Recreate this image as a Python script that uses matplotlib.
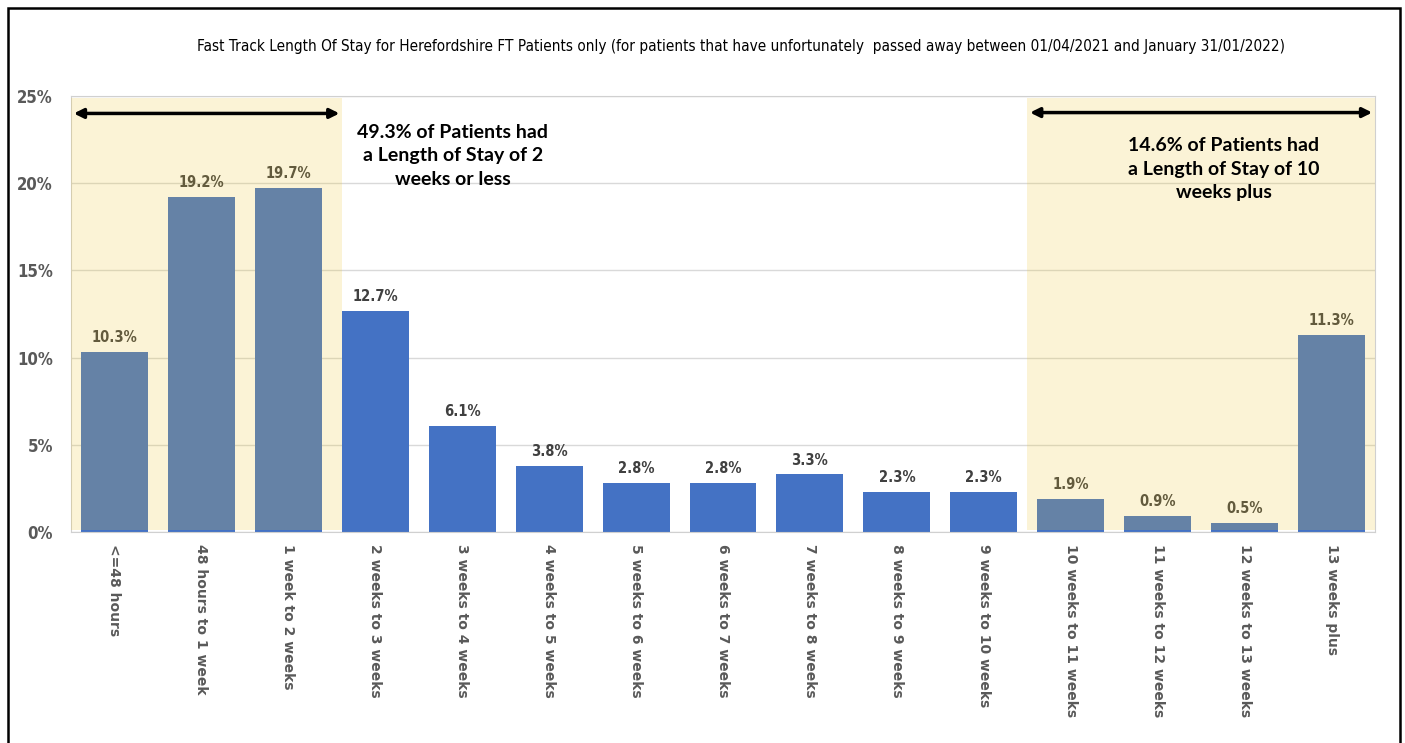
import matplotlib.pyplot as plt
from matplotlib.patches import Rectangle
from matplotlib.ticker import FuncFormatter

categories = ['<=48 hours', '48 hours to 1 week', '1 week to 2 weeks', '2 weeks to 3 weeks',
              '3 weeks to 4 weeks', '4 weeks to 5 weeks', '5 weeks to 6 weeks', '6 weeks to 7 weeks',
              '7 weeks to 8 weeks', '8 weeks to 9 weeks', '9 weeks to 10 weeks',
              '10 weeks to 11 weeks', '11 weeks to 12 weeks', '12 weeks to 13 weeks', '13 weeks plus']
values = [10.3, 19.2, 19.7, 12.7, 6.1, 3.8, 2.8, 2.8, 3.3, 2.3, 2.3, 1.9, 0.9, 0.5, 11.3]
y_ticks = [0, 5, 10, 15, 20, 25]

title = ('Fast Track Length Of Stay for Herefordshire FT Patients only (for patients that have '
         'unfortunately  passed away between 01/04/2021 and January 31/01/2022)')
note_left = '49.3% of Patients had\na Length of Stay of 2\nweeks or less'
note_right = '14.6% of Patients had\na Length of Stay of 10\nweeks plus'

narrow = dict(family='DejaVu Sans', stretch='condensed')

fig = plt.figure(figsize=(14.05, 7.43), dpi=100)
ax = fig.add_axes([71/1405, 1-532/743, 1304/1405, 436/743])

# outer black frame
fig.patches.append(Rectangle((8/1405, -0.05), 1392/1405, 1.05 - 8/743, transform=fig.transFigure,
                             fill=False, edgecolor='black', linewidth=1.8))

x = list(range(len(categories)))
bars = ax.bar(x, values, width=0.77, color='#4472C4', zorder=2)
for xi, v in zip(x, values):
    ax.annotate(f'{v}%', (xi, v), xytext=(0, 5), textcoords='offset points', ha='center', va='bottom',
                fontsize=10.5, fontweight='bold', color='#404040', zorder=3, **narrow)

# translucent highlight boxes
for x0, x1 in [(-0.5, 2.62), (10.5, 14.5)]:
    ax.add_patch(Rectangle((x0, 0.1), x1 - x0, 24.8, facecolor='#EDC532', alpha=0.2,
                           edgecolor='none', zorder=4))

ax.annotate('', xy=(-0.5, 24.0), xytext=(2.62, 24.0),
            arrowprops=dict(arrowstyle='<|-|>', color='black', lw=2.5, mutation_scale=14), zorder=5)
ax.annotate('', xy=(10.5, 24.05), xytext=(14.5, 24.05),
            arrowprops=dict(arrowstyle='<|-|>', color='black', lw=2.5, mutation_scale=14), zorder=5)

ax.text(3.89, 21.56, note_left, ha='center', va='center', fontsize=14, fontweight='bold',
        family=['Lato', 'DejaVu Sans'], linespacing=1.45, zorder=6)
ax.text(12.76, 20.81, note_right, ha='center', va='center', fontsize=14, fontweight='bold',
        family=['Lato', 'DejaVu Sans'], linespacing=1.45, zorder=6)

ax.set_xlim(-0.5, 14.5)
ax.set_ylim(0, 25)
ax.set_yticks(y_ticks)
ax.yaxis.set_major_formatter(FuncFormatter(lambda v, p: f'{int(v)}%'))
ax.grid(axis='y', color='#D9D9D9', linewidth=1, zorder=0)
ax.set_axisbelow(True)
for s in ax.spines.values():
    s.set_color('#D0D0D0')
ax.tick_params(length=0)
ax.tick_params(axis='y', pad=13)
ax.tick_params(axis='x', pad=9)
for lab in ax.get_yticklabels():
    lab.set_fontsize(12)
    lab.set_color('#595959')
    lab.set_family('DejaVu Sans')
    lab.set_stretch('condensed')
    lab.set_fontweight('bold')
ax.set_xticks(x)
ax.set_xticklabels(categories, rotation=-90, fontsize=10, fontweight='bold', color='#595959',
                   va='top', ha='center')

fig.text(741/1405, 1-46/743, title, ha='center', va='center', fontsize=11, **narrow)

fig.savefig('out.png', dpi=100)
